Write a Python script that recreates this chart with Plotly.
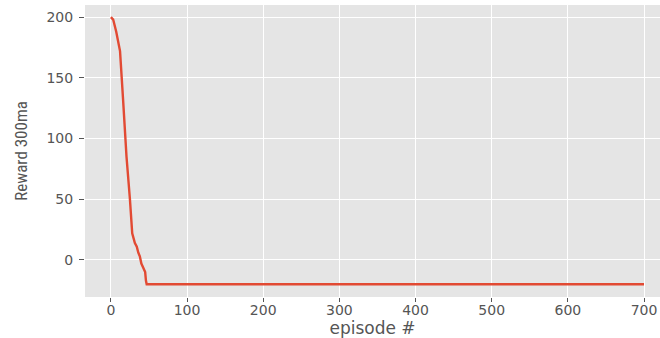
import plotly.graph_objects as go

episodes_head = [0, 3, 7, 12, 16, 20.5, 25, 28, 31.5, 34, 36, 38, 40, 43, 45, 46, 47, 49]
reward_head = [200, 198, 188, 172, 132, 85, 50, 22, 14, 11, 6, 3, -3, -8, -10, -17, -20, -20]
episodes_tail = [700]
reward_tail = [-20]

x = episodes_head + episodes_tail
y = reward_head + reward_tail

fig = go.Figure()
fig.add_trace(go.Scatter(x=x, y=y, mode="lines",
                         line=dict(color="#E24A33", width=2.4), showlegend=False))

fig.update_layout(
    width=660, height=338,
    margin=dict(l=85, r=0, t=5, b=41, autoexpand=False),
    paper_bgcolor="white", plot_bgcolor="#E5E5E5",
    font=dict(family="DejaVu Sans", size=14, color="#555555"),
)
fig.update_xaxes(range=[-34, 721], tickvals=[0, 100, 200, 300, 400, 500, 600, 700],
                 showgrid=True, gridcolor="white", gridwidth=1.2, zeroline=False,
                 ticks="outside", ticklen=4, tickcolor="#555555", ticklabelstandoff=-4,
                 title=dict(text="episode #", font=dict(size=17, color="#555555"), standoff=0),
                 showline=False)
fig.update_yaxes(range=[-30.5, 210], tickvals=[0, 50, 100, 150, 200],
                 showgrid=True, gridcolor="white", gridwidth=1.2, zeroline=False,
                 ticks="outside", ticklen=5, tickcolor="#555555", ticklabelstandoff=3,
                 title=dict(text="Reward 300ma",
                            font=dict(family="Liberation Sans Narrow, Roboto Condensed, Liberation Sans", size=17, color="#555555"),
                            standoff=14),
                 showline=False)

fig.write_html("out.html", config={"displayModeBar": False},
               post_script="document.body.style.margin='0';")
